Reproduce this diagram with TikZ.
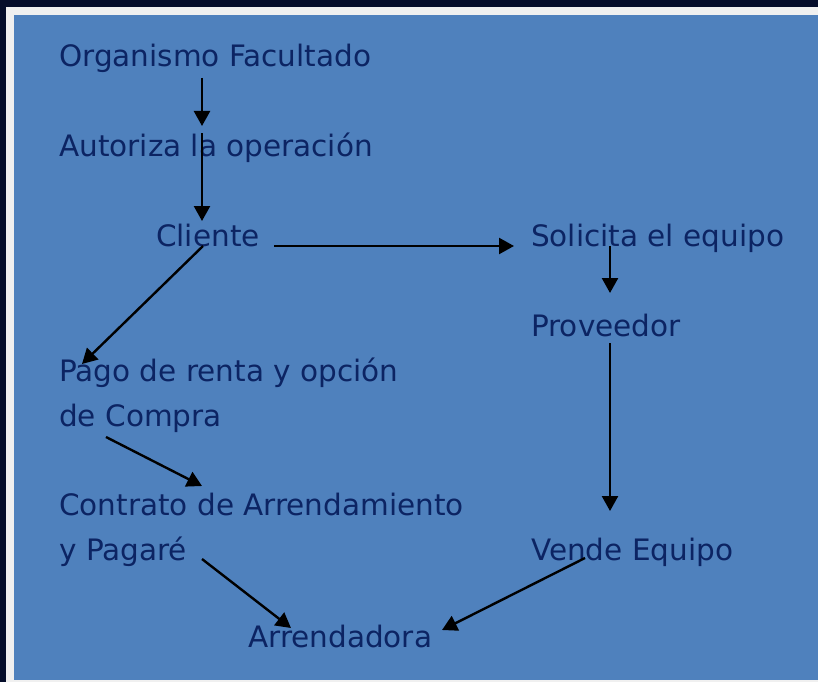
\documentclass[tikz,border=0pt]{standalone}
\usepackage{fontspec}
\setmainfont{DejaVu Sans}
\usetikzlibrary{arrows.meta}
\definecolor{outerdark}{HTML}{050D2A}
\definecolor{framelight}{HTML}{F0F0F0}
\definecolor{bgblue}{HTML}{4F81BD}
\definecolor{txtblue}{HTML}{0C2463}
\tikzset{
  lbl/.style={anchor=base west, inner sep=0pt, text=txtblue, align=left,
    font=\fontsize{29.5}{45}\selectfont},
  conn/.style={draw=black, line width=2.4pt, -{Triangle[width=16pt,length=15pt]}}
}
\begin{document}
\begin{tikzpicture}[x=1pt,y=-1pt]
\useasboundingbox (0,0) rectangle (818,682);
\fill[outerdark] (0,0) rectangle (818,682);
\fill[framelight] (5.5,7.5) rectangle (818,682);
\fill[bgblue] (13.5,15.5) rectangle (818,680);
% texts (multi-line nodes are placed by the baseline of their last line)
\node[lbl] (org) at (59,67) {Organismo Facultado};
\node[lbl] (aut) at (59,156) {Autoriza la operación};
\node[lbl] (cli) at (156,246) {Cliente};
\node[lbl] (sol) at (531,246) {Solicita el equipo};
\node[lbl] (pro) at (531,336) {Proveedor};
\node[lbl] (pag) at (59,426) {Pago de renta y opción\\de Compra};
\node[lbl] (con) at (59,560) {Contrato de Arrendamiento\\y Pagaré};
\node[lbl] (ven) at (531,560) {Vende Equipo};
\node[lbl] (arr) at (248,647) {Arrendadora};
% connector end points
\coordinate (a1s) at (202,78);  \coordinate (a1e) at (202,126);
\coordinate (a2s) at (202,133); \coordinate (a2e) at (202,221);
\coordinate (a3s) at (274,246); \coordinate (a3e) at (514,246);
\coordinate (a4s) at (610,246); \coordinate (a4e) at (610,293);
\coordinate (a5s) at (610,343); \coordinate (a5e) at (610,511);
\coordinate (a6s) at (585,558); \coordinate (a6e) at (442,630);
\coordinate (a7s) at (202,559); \coordinate (a7e) at (291,628);
\coordinate (a8s) at (106,437); \coordinate (a8e) at (202,486);
\coordinate (a9s) at (203,246); \coordinate (a9e) at (82,364);
\draw[conn] (a1s) -- (a1e);
\draw[conn] (a2s) -- (a2e);
\draw[conn] (a3s) -- (a3e);
\draw[conn] (a4s) -- (a4e);
\draw[conn] (a5s) -- (a5e);
\draw[conn] (a6s) -- (a6e);
\draw[conn] (a7s) -- (a7e);
\draw[conn] (a8s) -- (a8e);
\draw[conn] (a9s) -- (a9e);
\end{tikzpicture}
\end{document}
